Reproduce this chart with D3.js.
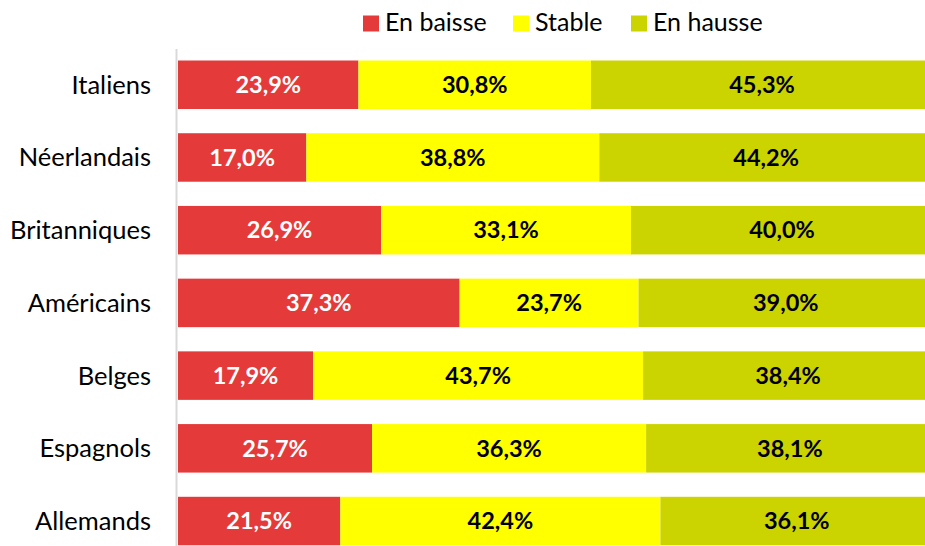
<!DOCTYPE html>
<html><head><meta charset="utf-8">
<script src="https://cdn.jsdelivr.net/npm/d3@7"></script>
<style>body{margin:0;background:#fff}svg{display:block}</style>
</head><body><svg id="c" width="925" height="546"></svg>
<script>
const categories = ["Italiens","Néerlandais","Britanniques","Américains","Belges","Espagnols","Allemands"];
const seriesNames = ["En baisse","Stable","En hausse"];
const enBaisse = [23.9,17.0,26.9,37.3,17.9,25.7,21.5];
const stable   = [30.8,38.8,33.1,23.7,43.7,36.3,42.4];
const enHausse = [45.3,44.2,40.0,39.0,38.4,38.1,36.1];
const colors = ["#E53A3A","#FFFF00","#CCD400"];
const labelColors = ["#FFFFFF","#000000","#000000"];

const svg = d3.select("#c");
const font = "Lato, 'Open Sans', sans-serif";
const series = [enBaisse, stable, enHausse];

const x = d3.scaleLinear().domain([0,100]).range([178,933]);
const y = d3.scaleBand().domain(categories).range([48.4,557.4]).paddingInner(0.333).paddingOuter(0.1665);

// axis line
svg.append("line").attr("x1",176.5).attr("x2",176.5).attr("y1",49).attr("y2",546)
  .attr("stroke","#D9D9D9").attr("stroke-width",2);

categories.forEach((cat,i)=>{
  let acc = 0;
  series.forEach((s,k)=>{
    const v = s[i];
    const x0 = x(acc), x1 = x(acc+v);
    svg.append("rect").attr("x",x0).attr("y",y(cat)).attr("width",x1-x0).attr("height",y.bandwidth())
      .attr("fill",colors[k]);
    svg.append("text").attr("x",(x0+x1)/2).attr("y",y(cat)+y.bandwidth()/2)
      .attr("dy","0.35em").attr("text-anchor","middle")
      .attr("font-family",font).attr("font-weight","bold").attr("font-size",23.5)
      .attr("fill",labelColors[k]).text(v.toFixed(1).replace(".",",")+"%");
    acc += v;
  });
  svg.append("text").attr("x",151).attr("y",y(cat)+y.bandwidth()/2).attr("dy","0.35em")
    .attr("text-anchor","end").attr("font-family",font).attr("font-size",25.5).attr("fill","#000")
    .text(cat);
});

// legend
const legX = [363,513,631];
seriesNames.forEach((n,k)=>{
  svg.append("rect").attr("x",legX[k]).attr("y",15.5).attr("width",16).attr("height",16).attr("fill",colors[k]);
  svg.append("text").attr("x",legX[k]+22).attr("y",30.5).attr("font-family",font).attr("font-size",25)
    .attr("fill","#000").text(n);
});
</script></body></html>
